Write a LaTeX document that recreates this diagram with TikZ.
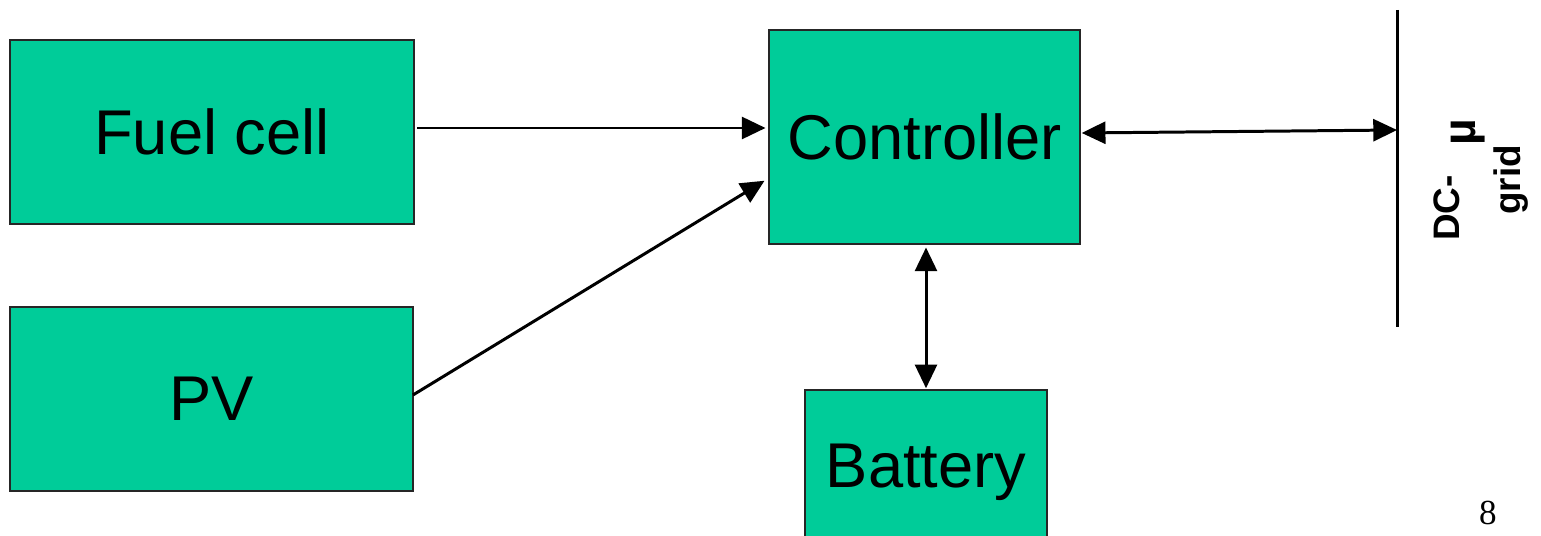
\documentclass[tikz,border=0pt]{standalone}
\usepackage{fontspec}
\setmainfont{Liberation Sans}
\newfontfamily\pagefont{Liberation Serif}
\usepackage{xcolor}
\usepackage{tikz}
\usetikzlibrary{calc, arrows.meta, positioning}

\definecolor{boxgreen}{RGB}{0,204,153}

\tikzset{
    blockbox/.style={draw=black!85, line width=0.8pt, fill=boxgreen,
        inner sep=0pt, outer sep=0pt, font=\fontsize{36}{40}\selectfont},
    flow/.style={line width=1.7pt, -{Triangle[length=13.5pt, width=12.5pt]}},
    duplex/.style={line width=1.7pt,
        {Triangle[length=13.5pt, width=12.5pt]}-{Triangle[length=13.5pt, width=12.5pt]}}
}

\begin{document}
\begin{tikzpicture}[x=0.02cm, y=-0.02cm]
    \useasboundingbox (0,0) rectangle (1541,536);
    \clip (0,0) rectangle (1541,536);

    % 1. Các khối
    \node[blockbox, minimum width=8.08cm, minimum height=3.68cm] (fuel) at (212,132) {Fuel cell};
    \node[blockbox, minimum width=8.06cm, minimum height=3.68cm] (pv) at (211.5,399) {PV};
    \node[blockbox, minimum width=6.22cm, minimum height=4.28cm] (ctrl) at (924.5,137) {Controller};
    \node[blockbox, minimum width=4.84cm, minimum height=3.28cm] (batt) at (926,472) {Battery};

    % 2. Thanh cái DC
    \coordinate (bustop) at (1397,10);
    \coordinate (busbot) at (1397,327);
    \coordinate (bus) at (1397,130);
    \draw[line width=1.7pt] (bustop) -- (busbot);
    \node[rotate=90, align=center, font=\bfseries\fontsize{21}{35}\selectfont] (buslabel)
        at (1481,180) {DC-\hspace{0.8em}\raisebox{-0.45em}{\scalebox{1.25}{µ}}\\grid};

    % 3. Các mũi tên
    \draw[flow, shorten <=2pt, shorten >=2pt] ([yshift=0.08cm]fuel.east) -- ([yshift=0.08cm]fuel.east -| ctrl.west);
    \draw[flow, shorten >=3pt] ([yshift=0.08cm]pv.east) -- ([yshift=-0.82cm]ctrl.west);
    \draw[duplex, shorten <=1pt] ([yshift=0.08cm]ctrl.east) -- (bus);
    \draw[duplex, shorten <=2pt, shorten >=1pt] ([xshift=0.03cm]ctrl.south) -- ([xshift=0.03cm]ctrl.south |- batt.north);

    % 4. Số trang
    \node[font=\pagefont\fontsize{20}{24}\selectfont] (pagenum) at (1488,513) {8};
\end{tikzpicture}
\end{document}
